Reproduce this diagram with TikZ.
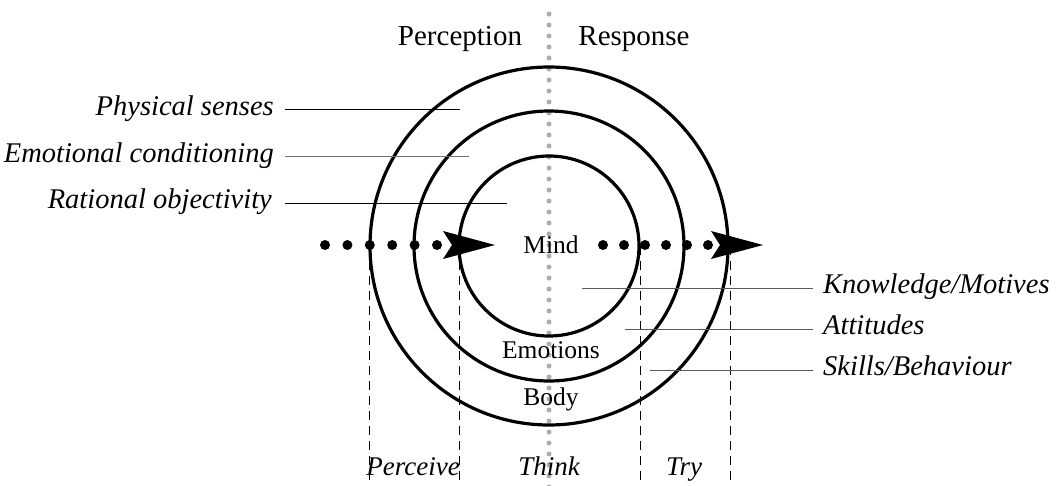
\documentclass[tikz,border=0pt]{standalone}
\usepackage{fontspec}
\setmainfont{Liberation Serif}
\usetikzlibrary{arrows.meta}
\begin{document}
\begin{tikzpicture}[x=1pt,y=-1pt,
  ring/.style={draw=black,line width=3.2pt},
  lab/.style={inner sep=0pt,font=\fontsize{28.5}{30}\selectfont\itshape},
  head/.style={inner sep=0pt,font=\fontsize{29}{31}\selectfont},
  inlab/.style={inner sep=0pt,font=\fontsize{25.5}{27}\selectfont},
  stage/.style={inner sep=0pt,font=\fontsize{27}{29}\selectfont\itshape},
  pointer/.style={line width=0.9pt},
  guide/.style={line width=1pt,dash pattern=on 9pt off 6pt},
  axis/.style={draw=black!32,line width=5pt,line cap=round,dash pattern=on 0pt off 11pt},
  tip/.style={-{Stealth[length=52pt,width=28pt,inset=9pt,line width=0pt]}},
  flowL/.style={line width=10pt,line cap=round,dash pattern=on 0pt off 22.4pt,tip},
  flowR/.style={line width=10pt,line cap=round,dash pattern=on 0pt off 21pt,tip}]
\useasboundingbox (0,0) rectangle (1060,485);
% centre
\coordinate (c) at (549,246);
% vertical gray axis
\coordinate (axT) at (549,14);
\coordinate (axB) at (549,490);
\draw[axis] (axT) -- (axB);
% circles
\draw[ring] (c) circle[radius=179];
\draw[ring] (c) circle[radius=135];
\draw[ring] (c) circle[radius=90];
% dashed guides
\foreach \n/\x in {g1/369,g2/459,g3/640,g4/730}{
  \coordinate (\n t) at (\x,246);
  \coordinate (\n b) at (\x,485);
  \draw[guide] (\n t) -- (\n b);
}
% flows
\coordinate (L0) at (325,245);
\coordinate (L1) at (495,245);
\draw[flowL] (L0) -- (L1);
\coordinate (R0) at (603,245);
\coordinate (R1) at (763,245);
\draw[flowR] (R0) -- (R1);
% headings
\node[head,anchor=base] (perc) at (460,45) {Perception};
\node[head,anchor=base] (resp) at (634,45) {Response};
% inner labels
\node[inlab,anchor=base] (mind) at (551,253) {Mind};
\node[inlab,anchor=base] (emo) at (551,358) {Emotions};
\node[inlab,anchor=base] (body) at (551,405) {Body};
% left labels
\node[lab,anchor=base east] (ps) at (274,115) {Physical senses};
\node[lab,anchor=base east] (ec) at (274,162) {Emotional conditioning};
\node[lab,anchor=base east] (ro) at (272,208) {Rational objectivity};
\coordinate (psE) at (460,109);
\coordinate (ecE) at (469,156);
\coordinate (roE) at (507,203);
\coordinate (psS) at (285,109);
\coordinate (ecS) at (285,156);
\coordinate (roS) at (285,203);
\draw[pointer] (psS) -- (psE);
\draw[pointer,draw=black!55] (ecS) -- (ecE);
\draw[pointer] (roS) -- (roE);
% right labels
\node[lab,anchor=base west] (km) at (823,293) {Knowledge/Motives};
\node[lab,anchor=base west] (at) at (823,334) {Attitudes};
\node[lab,anchor=base west] (sb) at (823,375) {Skills/Behaviour};
\coordinate (kmS) at (582,288);
\coordinate (atS) at (625,329);
\coordinate (sbS) at (650,370);
\coordinate (kmE) at (813,288);
\coordinate (atE) at (813,329);
\coordinate (sbE) at (813,370);
\draw[pointer,draw=black!65] (kmS) -- (kmE);
\draw[pointer,draw=black!65] (atS) -- (atE);
\draw[pointer,draw=black!65] (sbS) -- (sbE);
% stages
\node[stage,anchor=base] (perceive) at (413,475) {Perceive};
\node[stage,anchor=base] (think) at (549,475) {Think};
\node[stage,anchor=base] (try) at (684,475) {Try};
\end{tikzpicture}
\end{document}
